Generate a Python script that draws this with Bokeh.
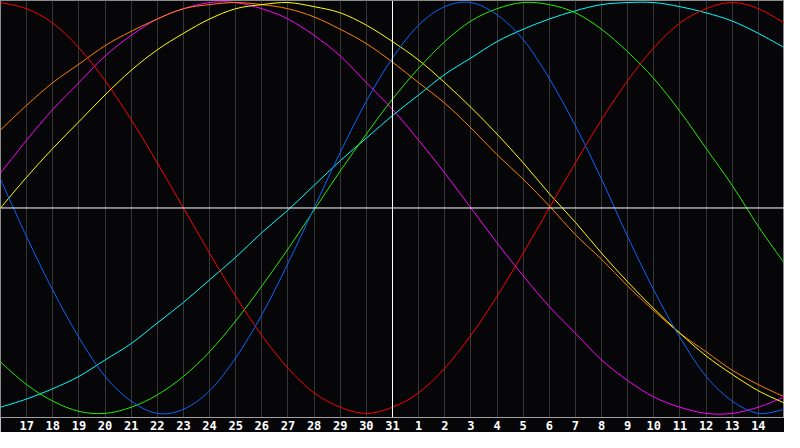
import numpy as np
from bokeh.plotting import figure
from bokeh.models import Span, FixedTicker
from bokeh.embed import file_html
from bokeh.resources import INLINE

# day index 0 = the 16th, today (31st) is index 15
days = list(range(0, 31))
tick_pos = list(range(1, 30))
tick_labels = [str(d) for d in range(17, 32)] + [str(d) for d in range(1, 15)]
today = 15

# values, one per day (-1 .. 1)
physical = [0.14, -0.14, -0.40, -0.63, -0.82, -0.94, -1.00, -0.98, -0.89, -0.73,
            -0.52, -0.27, 0.00, 0.27, 0.52, 0.73, 0.89, 0.98, 1.00, 0.94,
            0.82, 0.63, 0.40, 0.14, -0.14, -0.40, -0.63, -0.82, -0.94, -1.00, -0.98]
emotional = [1.00, 0.97, 0.90, 0.78, 0.62, 0.43, 0.22, 0.00, -0.22, -0.43,
             -0.62, -0.78, -0.90, -0.97, -1.00, -0.97, -0.90, -0.78, -0.62, -0.43,
             -0.22, 0.00, 0.22, 0.43, 0.62, 0.78, 0.90, 0.97, 1.00, 0.97, 0.90]
intellectual = [-0.75, -0.86, -0.94, -0.99, -1.00, -0.97, -0.91, -0.82, -0.70, -0.55,
                -0.38, -0.20, -0.01, 0.18, 0.36, 0.53, 0.68, 0.81, 0.91, 0.97,
                1.00, 0.99, 0.95, 0.87, 0.76, 0.63, 0.47, 0.29, 0.11, -0.09, -0.27]
spiritual = [-0.97, -0.93, -0.88, -0.82, -0.74, -0.66, -0.56, -0.46, -0.35, -0.24,
             -0.12, -0.01, 0.11, 0.23, 0.34, 0.45, 0.55, 0.65, 0.73, 0.81,
             0.87, 0.92, 0.96, 0.99, 1.00, 1.00, 0.98, 0.95, 0.91, 0.85, 0.78]
intuitive = [0.17, 0.33, 0.48, 0.61, 0.74, 0.84, 0.92, 0.97, 1.00, 1.00,
             0.97, 0.92, 0.84, 0.74, 0.61, 0.48, 0.33, 0.17, 0.00, -0.17,
             -0.33, -0.48, -0.61, -0.74, -0.84, -0.92, -0.97, -1.00, -1.00, -0.97, -0.92]
aesthetic = [0.00, 0.15, 0.29, 0.42, 0.55, 0.67, 0.77, 0.85, 0.92, 0.97,
             0.99, 1.00, 0.98, 0.95, 0.89, 0.81, 0.72, 0.61, 0.49, 0.36,
             0.22, 0.07, -0.07, -0.22, -0.36, -0.49, -0.61, -0.72, -0.81, -0.89, -0.95]
awareness = [0.38, 0.50, 0.61, 0.70, 0.79, 0.86, 0.92, 0.97, 0.99, 1.00,
             0.99, 0.97, 0.93, 0.87, 0.80, 0.71, 0.61, 0.51, 0.39, 0.26,
             0.14, 0.01, -0.13, -0.25, -0.38, -0.50, -0.61, -0.70, -0.79, -0.86, -0.92]

bg = "#060609"

p = figure(width=784, height=432,
           x_range=(0, 30), y_range=(-1.02, 1.01),
           output_backend="svg", toolbar_location=None, tools="",
           y_axis_location=None,
           background_fill_color=bg, border_fill_color=bg,
           min_border_left=0, min_border_right=0, min_border_top=0)

p.outline_line_color = "#8c8c8c"
p.ygrid.grid_line_color = None
p.xgrid.ticker = FixedTicker(ticks=tick_pos)
p.xgrid.grid_line_color = "#363636"

p.xaxis.ticker = FixedTicker(ticks=tick_pos)
p.xaxis.major_label_overrides = {t: s for t, s in zip(tick_pos, tick_labels)}
p.xaxis.major_tick_in = 0
p.xaxis.major_tick_out = 0
p.xaxis.minor_tick_line_color = None
p.xaxis.axis_line_color = "#a0a0a0"
p.xaxis.major_label_text_color = "white"
p.xaxis.major_label_text_font = "DejaVu Sans Mono"
p.xaxis.major_label_text_font_style = "bold"
p.xaxis.major_label_text_font_size = "12px"
p.xaxis.major_label_standoff = 3

p.add_layout(Span(location=0, dimension="width", line_color="white", line_width=1))
p.add_layout(Span(location=today, dimension="height", line_color="white", line_width=1))


def smooth(xs, ys, color):
    # draw the daily points as one smooth curve (catmull-rom -> bezier)
    x = np.asarray(xs, float)
    y = np.asarray(ys, float)
    xp = np.concatenate([[x[0]], x, [x[-1]]])
    yp = np.concatenate([[y[0]], y, [y[-1]]])
    n = len(x) - 1
    k = np.arange(n)
    p.bezier(x0=x[:-1], y0=y[:-1], x1=x[1:], y1=y[1:],
             cx0=x[:-1] + (xp[k + 2] - xp[k]) / 6, cy0=y[:-1] + (yp[k + 2] - yp[k]) / 6,
             cx1=x[1:] - (xp[k + 3] - xp[k + 1]) / 6, cy1=y[1:] - (yp[k + 3] - yp[k + 1]) / 6,
             line_color=color, line_width=1)


smooth(days, intuitive, "#ff00ff")
smooth(days, awareness, "#ff8000")
smooth(days, aesthetic, "#ffff00")
smooth(days, spiritual, "#00ffff")
smooth(days, intellectual, "#22ee00")
smooth(days, emotional, "#ff0000")
smooth(days, physical, "#0a64ff")

open("out.html", "w").write(file_html(p, INLINE))
